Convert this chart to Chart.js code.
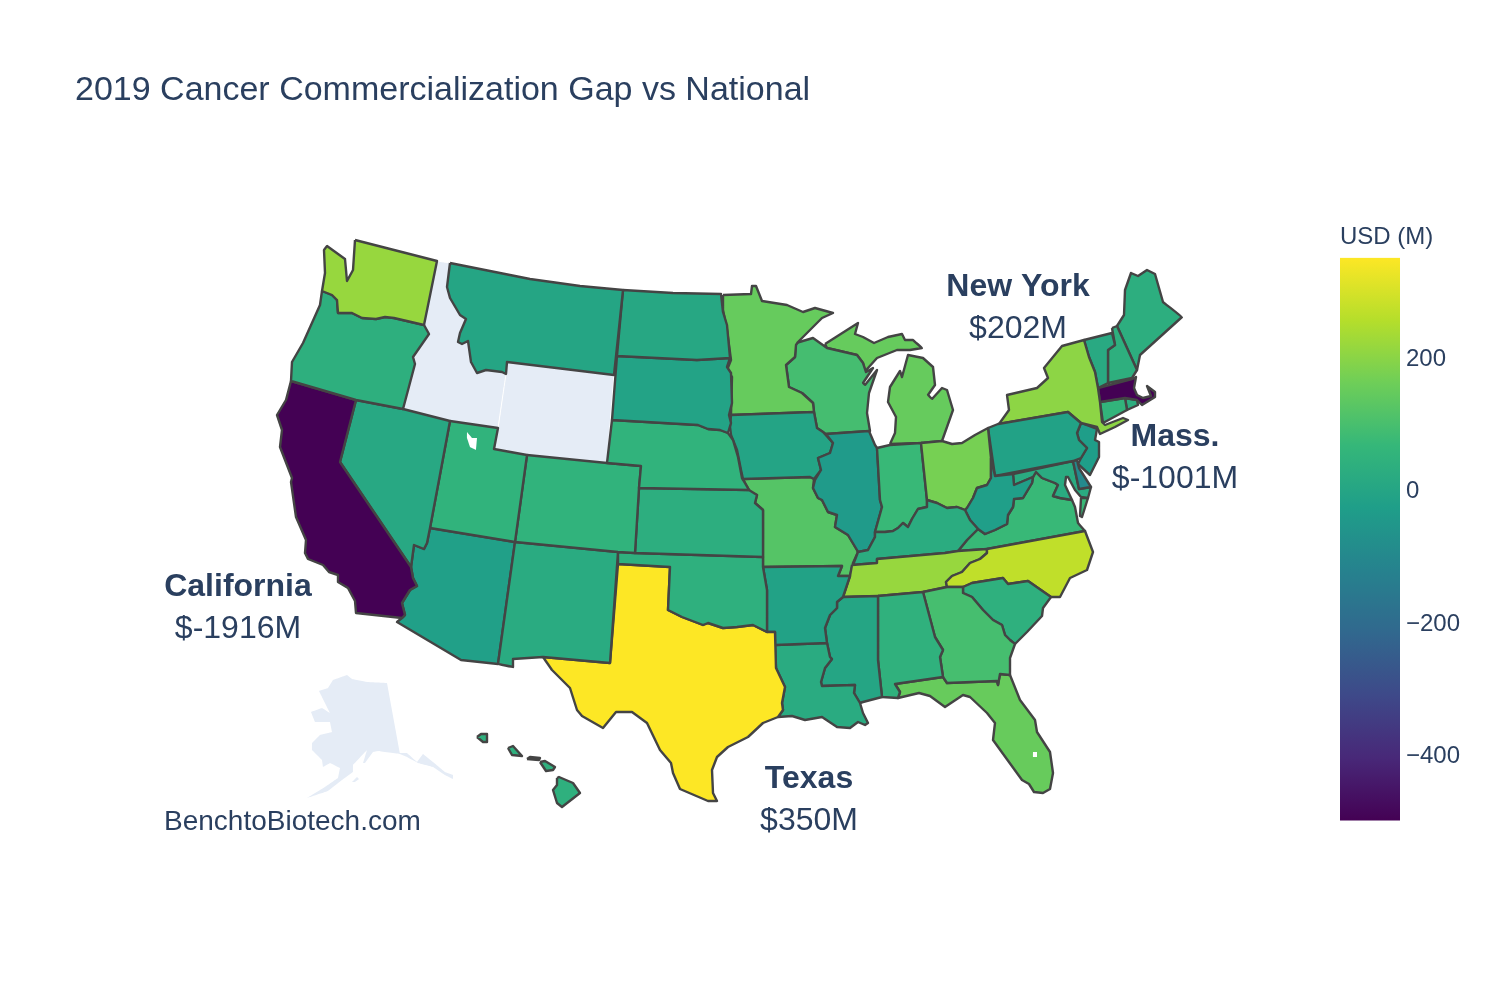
<!DOCTYPE html>
<html>
<head>
<meta charset="utf-8">
<title>2019 Cancer Commercialization Gap vs National</title>
<script src="https://cdn.jsdelivr.net/npm/chart.js@4"></script>
<style>
    body { margin: 0; background: #fff; }
    #mapChart { position: absolute; left: 0; top: 0; }
    #barChart { position: absolute; left: 1340px; top: 215px; }
</style>
</head>
<body>
<canvas id="mapChart" width="1500" height="1000"></canvas>
<canvas id="barChart" width="160" height="626"></canvas>
<script>
const titleText = '2019 Cancer Commercialization Gap vs National';
const colorbarTitle = 'USD (M)';
const colorbarTicks = [-400, -200, 0, 200];
const colorMin = -500;
const colorMax = 350;
const viridis = ['#440154', '#482878', '#3e4989', '#31688e', '#26828e', '#1f9e89', '#35b779', '#6ece58', '#b5de2b', '#fde725'];

const stateCodes = ['WA','OR','CA','NV','UT','MT','ND','SD','NE','CO','KS','NM','AZ','OK','TX','AR','LA','MS','AL','GA','FL','SC','NC','TN','KY','WV','OH','IN','IL','IA','MO','MN','WI','MI','PA','NY','NJ','DE','MD','VA','VT','NH','ME','MA','CT','RI','HI'];
const stateValues = [215,36,-1916,10,51,-1,6,-9,51,51,33,21,-20,40,350,-13,21,0,44,95,150,40,270,215,25,-25,172,72,-38,-5,120,148,93,148,-13,202,-28,-95,21,72,14,36,33,-1001,55,33,40];

const annotationNames = ['New York', 'Mass.', 'California', 'Texas'];
const annotationAmounts = ['$202M', '$-1001M', '$-1916M', '$350M'];
const annotationX = [1018, 1175, 238, 809];
const annotationY = [287, 437, 587, 779];
const creditText = 'BenchtoBiotech.com';

// state outlines traced in map units, one or more rings per state
const stateShapes = {
    WA: [[[355,240],[437,261],[424,325],[394,318],[385,317],[376,319],[362,318],[352,313],[338,313],[337,300],[332,295],[322,291],[325,273],[324,250],[327,246],[345,259],[347,281],[353,270]]],
    OR: [[[322,291],[332,295],[337,300],[338,313],[352,313],[362,318],[376,319],[385,317],[394,318],[424,325],[429,334],[413,357],[415,364],[403,409],[356,400],[291,381],[292,362],[303,343],[320,305]]],
    CA: [[[291,381],[356,400],[340,462],[411,567],[413,578],[417,586],[410,590],[402,603],[405,615],[402,618],[356,613],[355,601],[348,588],[338,582],[338,575],[329,572],[323,565],[308,559],[305,553],[306,540],[296,517],[291,482],[292,478],[280,447],[282,430],[277,415],[286,400]]],
    NV: [[[356,400],[403,409],[450,421],[430,528],[427,543],[424,549],[414,545],[411,567],[340,462]]],
    UT: [[[450,421],[498,428],[494,449],[527,455],[515,542],[430,528]]],
    MT: [[[450,263],[530,279],[580,286],[623,290],[614,375],[507,362],[506,374],[502,372],[486,370],[477,373],[471,362],[468,341],[462,344],[458,342],[460,333],[466,319],[460,315],[450,298],[447,287]]],
    ND: [[[623,290],[673,293],[721,294],[723,312],[727,325],[730,358],[697,360],[617,356]]],
    SD: [[[617,356],[697,360],[730,358],[727,367],[731,373],[732,403],[729,415],[731,423],[728,433],[720,430],[708,429],[698,425],[612,420]]],
    NE: [[[612,420],[698,425],[708,429],[720,430],[728,433],[733,440],[738,457],[742,478],[749,490],[639,488],[641,466],[607,463]]],
    CO: [[[527,455],[607,463],[641,466],[639,488],[635,553],[618,552],[515,542]]],
    KS: [[[639,488],[749,490],[757,495],[755,503],[763,510],[763,557],[635,553]]],
    NM: [[[515,542],[618,552],[610,663],[543,657],[513,659],[513,667],[498,664]]],
    AZ: [[[430,528],[515,542],[498,664],[461,660],[397,622],[402,618],[405,615],[402,603],[410,590],[417,586],[413,578],[411,567],[414,545],[424,549],[427,543]]],
    OK: [[[618,552],[635,553],[763,557],[763,567],[767,590],[767,632],[753,625],[737,627],[723,628],[720,627],[708,623],[703,625],[682,617],[668,610],[670,567],[618,564]]],
    TX: [[[618,564],[670,567],[668,610],[682,617],[703,625],[708,623],[720,627],[723,628],[737,627],[753,625],[767,632],[775,632],[776,668],[785,687],[782,703],[783,710],[778,717],[763,723],[748,737],[728,747],[717,757],[712,770],[713,793],[717,801],[708,801],[680,789],[673,773],[671,763],[660,750],[647,723],[632,712],[616,712],[603,728],[582,716],[577,710],[570,688],[552,670],[543,657],[610,663]]],
    AR: [[[763,567],[842,566],[838,576],[850,576],[843,597],[837,602],[837,608],[830,615],[825,628],[827,643],[775,645],[775,632],[767,632],[767,590]]],
    LA: [[[775,645],[827,643],[830,657],[832,659],[825,668],[821,682],[822,686],[855,685],[854,693],[860,703],[863,713],[868,723],[865,725],[858,722],[850,728],[837,727],[822,717],[805,720],[792,716],[778,717],[783,710],[782,703],[785,687],[776,668]]],
    MS: [[[843,597],[878,596],[878,660],[882,697],[863,702],[860,703],[854,693],[855,685],[822,686],[821,682],[825,668],[832,659],[830,657],[827,643],[825,628],[830,615],[837,608],[837,602]]],
    AL: [[[878,596],[923,592],[935,637],[943,650],[940,657],[943,677],[895,684],[900,692],[898,698],[882,697],[878,660]]],
    GA: [[[923,592],[947,587],[963,587],[963,593],[972,597],[983,610],[993,620],[1002,625],[1005,635],[1010,640],[1015,644],[1010,658],[1010,675],[1000,674],[998,685],[997,681],[947,683],[943,677],[940,657],[943,650],[935,637]]],
    FL: [[[895,684],[943,677],[947,683],[997,681],[998,685],[1000,674],[1010,675],[1020,700],[1035,720],[1037,732],[1050,752],[1053,773],[1050,789],[1043,793],[1034,792],[1029,784],[1022,780],[993,740],[995,723],[987,713],[970,697],[963,695],[945,707],[930,696],[919,693],[898,698],[900,692]]],
    SC: [[[963,587],[972,583],[1003,578],[1008,584],[1028,581],[1051,597],[1043,608],[1042,616],[1027,632],[1015,644],[1010,640],[1005,635],[1002,625],[993,620],[983,610],[972,597],[963,593]]],
    NC: [[[947,587],[946,582],[952,576],[962,572],[970,563],[980,559],[987,553],[987,549],[1085,531],[1093,552],[1087,570],[1070,578],[1060,597],[1051,597],[1028,581],[1008,584],[1003,578],[972,583],[963,587]]],
    TN: [[[852,565],[877,563],[877,559],[945,553],[958,551],[987,549],[987,553],[980,559],[970,563],[962,572],[952,576],[946,582],[947,587],[923,592],[878,596],[843,597],[850,576]]],
    KY: [[[853,565],[858,552],[868,550],[875,537],[875,532],[885,532],[893,531],[898,528],[903,523],[908,527],[912,519],[918,509],[927,507],[927,500],[937,503],[947,508],[957,507],[965,510],[970,520],[978,529],[967,540],[958,551],[945,553],[877,559],[877,563]]],
    WV: [[[991,458],[995,476],[1013,474],[1014,485],[1033,477],[1032,483],[1023,498],[1014,499],[1013,507],[1008,515],[1007,524],[995,530],[985,534],[978,529],[970,520],[965,510],[967,508],[973,498],[977,488],[987,485],[991,478]]],
    OH: [[[921,443],[942,441],[952,444],[962,443],[975,435],[988,428],[991,458],[991,478],[987,485],[977,488],[973,498],[967,508],[965,510],[957,507],[947,508],[937,503],[927,500]]],
    IN: [[[877,448],[890,445],[921,443],[927,500],[927,507],[918,509],[912,519],[908,527],[903,523],[898,528],[893,531],[885,532],[875,532],[882,507],[880,500]]],
    IL: [[[826,434],[869,431],[875,445],[877,448],[880,500],[882,507],[875,532],[875,537],[868,550],[858,552],[857,550],[848,535],[835,527],[837,515],[828,512],[822,500],[818,498],[813,488],[815,480],[821,470],[818,458],[830,453],[833,443]]],
    IA: [[[731,415],[814,412],[817,428],[823,432],[833,443],[830,453],[818,458],[821,470],[814,479],[810,477],[743,479],[741,470],[737,450],[731,435],[730,427]]],
    MO: [[[743,479],[810,477],[814,479],[813,488],[818,498],[822,500],[828,512],[837,515],[835,527],[848,535],[857,550],[858,552],[853,563],[850,576],[838,576],[842,566],[763,567],[763,510],[755,503],[757,495],[750,492]]],
    MN: [[[723,295],[751,294],[752,286],[756,286],[762,301],[787,305],[803,312],[815,308],[833,313],[822,318],[798,342],[796,345],[795,357],[786,365],[789,387],[802,393],[813,403],[814,412],[731,415],[732,377],[727,370],[731,360],[727,330],[723,310]]],
    WI: [[[796,343],[813,338],[827,348],[857,355],[863,363],[866,372],[873,368],[863,383],[865,385],[877,370],[869,393],[867,413],[870,431],[826,434],[823,432],[817,428],[814,412],[813,403],[802,393],[789,387],[786,365],[795,357]]],
    MI: [[[825,344],[858,323],[855,334],[863,337],[874,343],[888,337],[902,334],[905,340],[913,340],[922,348],[910,350],[897,350],[877,358],[868,368],[865,372],[863,363],[857,355],[827,348]],
         [[890,444],[895,433],[896,417],[888,402],[890,387],[900,371],[902,377],[908,355],[923,358],[933,367],[935,385],[928,395],[932,399],[942,388],[947,390],[953,410],[942,441],[921,443]]],
    PA: [[[988,428],[998,424],[1068,412],[1075,418],[1081,423],[1077,433],[1079,440],[1087,448],[1081,458],[1073,461],[995,476]]],
    NY: [[[999,424],[1009,410],[1007,395],[1037,388],[1048,378],[1044,368],[1062,346],[1084,340],[1089,357],[1095,372],[1098,388],[1100,402],[1102,422],[1105,425],[1123,418],[1128,420],[1115,427],[1100,434],[1097,427],[1081,423],[1068,412]]],
    NJ: [[[1081,423],[1097,429],[1095,440],[1099,442],[1099,457],[1090,475],[1078,464],[1081,458],[1087,448],[1079,440],[1077,433]]],
    DE: [[[1073,461],[1077,460],[1079,468],[1091,487],[1079,489]]],
    MD: [[[1013,474],[1073,461],[1079,489],[1091,487],[1088,498],[1081,497],[1075,490],[1068,477],[1066,477],[1065,485],[1072,500],[1060,498],[1053,496],[1058,485],[1055,483],[1042,478],[1036,472],[1033,477],[1014,485]]],
    VA: [[[958,551],[967,540],[978,529],[985,534],[995,530],[1007,524],[1008,515],[1013,507],[1014,499],[1023,498],[1032,483],[1033,477],[1036,472],[1042,478],[1055,483],[1058,485],[1053,496],[1060,498],[1072,500],[1075,507],[1078,523],[1085,531],[987,549]],
         [[1081,498],[1088,498],[1082,517],[1080,516]]],
    VT: [[[1084,340],[1112,333],[1115,345],[1108,350],[1108,383],[1098,388],[1095,372],[1089,357]]],
    NH: [[[1112,328],[1117,326],[1137,370],[1132,378],[1108,383],[1108,350],[1115,345]]],
    ME: [[[1117,326],[1124,315],[1125,290],[1131,273],[1138,276],[1147,270],[1155,274],[1163,302],[1182,317],[1140,355],[1137,370]]],
    MA: [[[1098,388],[1132,379],[1136,377],[1134,388],[1137,395],[1143,398],[1151,396],[1147,386],[1155,392],[1155,397],[1142,405],[1137,400],[1125,398],[1100,402]]],
    CT: [[[1100,402],[1125,398],[1127,410],[1103,423]]],
    RI: [[[1125,398],[1137,400],[1138,405],[1127,410]]],
    HI: [[[477,737],[481,734],[487,734],[487,742],[483,742]],
         [[508,748],[513,746],[522,756],[512,755]],
         [[527,759],[530,757],[540,758],[539,760]],
         [[540,762],[545,761],[555,767],[553,770],[546,771]],
         [[557,778],[559,777],[573,783],[580,793],[562,807],[557,803],[553,790],[557,785]]]
};

// states without a value, and the lakes cut out of the land
const idahoWyomingShapes = [
    [[437,261],[450,263],[447,287],[450,298],[460,315],[466,319],[460,333],[458,342],[462,344],[468,341],[471,362],[477,373],[486,370],[502,372],[506,374],[498,428],[450,421],[403,409],[415,364],[413,357],[429,334],[424,325]],
    [[507,362],[614,375],[607,463],[527,455],[494,449],[498,428]]
];
const alaskaShapes = [
    [[387,683],[400,753],[407,753],[417,762],[423,754],[433,762],[445,772],[453,775],[453,779],[445,775],[433,767],[418,763],[407,757],[400,754],[378,751],[373,752],[365,763],[363,763],[367,750],[353,765],[353,772],[342,780],[328,791],[307,798],[325,787],[338,778],[340,768],[330,763],[323,767],[322,760],[312,750],[312,743],[320,735],[332,732],[330,722],[315,722],[311,712],[322,708],[330,713],[319,691],[328,688],[333,680],[347,675],[352,679],[367,682]],
    [[352,782],[357,777],[359,779],[355,782]]
];
const lakeShapes = [
    [[467,432],[472,438],[477,438],[476,450],[470,447],[467,438]],
    [[1033,752],[1037,752],[1037,757],[1033,757]]
];

function valueToColor(value) {
    const t = Math.min(1, Math.max(0, (value - colorMin) / (colorMax - colorMin))) * (viridis.length - 1);
    const i = Math.min(Math.floor(t), viridis.length - 2);
    const a = parseInt(viridis[i].slice(1), 16);
    const b = parseInt(viridis[i + 1].slice(1), 16);
    const f = t - i;
    const mix = function(shift) {
        const ca = (a >> shift) & 255;
        const cb = (b >> shift) & 255;
        return Math.round(ca + (cb - ca) * f);
    };
    return `rgb(${mix(16)}, ${mix(8)}, ${mix(0)})`;
}

function ringDataset(label, ring, fillColor, lineColor, lineWidth) {
    return {
        label: label,
        data: ring.concat([ring[0]]).map(function(p) { return { x: p[0], y: p[1] }; }),
        showLine: true,
        fill: 'shape',
        // a tiny tension keeps Chart.js off its fast path, which merges points sharing an x pixel
        tension: 0.001,
        pointRadius: 0,
        backgroundColor: fillColor,
        borderColor: lineColor,
        borderWidth: lineWidth,
        borderJoinStyle: 'round'
    };
}

// earlier datasets are painted on top
const mapDatasets = [];
lakeShapes.forEach(function(ring) {
    mapDatasets.push(ringDataset('lake', ring, '#ffffff', '#ffffff', 0));
});
stateCodes.forEach(function(code, i) {
    stateShapes[code].forEach(function(ring) {
        mapDatasets.push(ringDataset(code, ring, valueToColor(stateValues[i]), '#444444', 2.4));
    });
});
idahoWyomingShapes.forEach(function(ring) {
    mapDatasets.push(ringDataset('no data', ring, '#e5ecf6', '#ffffff', 1));
});
alaskaShapes.forEach(function(ring) {
    mapDatasets.push(ringDataset('no data', ring, '#e5ecf6', '#e5ecf6', 0));
});

const textColor = '#2a3f5f';
const fontFamily = '"Liberation Sans", Arial, sans-serif';

const mapTextPlugin = {
    id: 'mapText',
    afterDraw: function(chart) {
        const ctx = chart.ctx;
        const xScale = chart.scales.x;
        const yScale = chart.scales.y;
        ctx.save();
        ctx.fillStyle = textColor;
        ctx.textBaseline = 'middle';
        ctx.textAlign = 'center';
        annotationNames.forEach(function(name, i) {
            const px = xScale.getPixelForValue(annotationX[i]);
            const py = yScale.getPixelForValue(annotationY[i]);
            ctx.font = `bold 32px ${fontFamily}`;
            ctx.fillText(name, px, py);
            ctx.font = `32px ${fontFamily}`;
            ctx.fillText(annotationAmounts[i], px, py + 42);
        });
        ctx.textAlign = 'left';
        ctx.font = `28px ${fontFamily}`;
        ctx.fillText(creditText, xScale.getPixelForValue(164), yScale.getPixelForValue(822));
        ctx.restore();
    }
};

new Chart(document.getElementById('mapChart').getContext('2d'), {
    type: 'scatter',
    data: { datasets: mapDatasets },
    plugins: [mapTextPlugin],
    options: {
        responsive: false,
        animation: false,
        events: [],
        layout: { padding: { left: 75 } },
        scales: {
            x: { type: 'linear', display: false, min: 75, max: 1500 },
            y: { type: 'linear', display: false, min: 130, max: 1000, reverse: true }
        },
        plugins: {
            legend: { display: false },
            tooltip: { enabled: false },
            title: {
                display: true,
                text: titleText,
                align: 'start',
                color: textColor,
                font: { family: fontFamily, size: 34, weight: 'normal', lineHeight: 1.2 },
                padding: { top: 70, bottom: 19.2 }
            }
        }
    }
});

new Chart(document.getElementById('barChart').getContext('2d'), {
    type: 'bar',
    data: {
        labels: [colorbarTitle],
        datasets: [{
            data: [[colorMin, colorMax]],
            barPercentage: 1,
            categoryPercentage: 1,
            backgroundColor: function(context) {
                const area = context.chart.chartArea;
                if (!area) {
                    return viridis[5];
                }
                const gradient = context.chart.ctx.createLinearGradient(0, area.bottom, 0, area.top);
                viridis.forEach(function(color, i) {
                    gradient.addColorStop(i / (viridis.length - 1), color);
                });
                return gradient;
            }
        }]
    },
    options: {
        responsive: false,
        animation: false,
        events: [],
        scales: {
            x: { display: false },
            y: {
                position: 'right',
                min: colorMin,
                max: colorMax,
                grid: { display: false, tickLength: 0 },
                border: { display: false },
                afterFit: function(scale) { scale.width = 100; },
                afterBuildTicks: function(scale) {
                    scale.ticks = colorbarTicks.map(function(value) { return { value: value }; });
                },
                ticks: {
                    padding: 6,
                    labelOffset: 2,
                    color: textColor,
                    font: { family: fontFamily, size: 24 },
                    callback: function(value) { return String(value).replace('-', '\u2212'); }
                }
            }
        },
        plugins: {
            legend: { display: false },
            tooltip: { enabled: false },
            title: {
                display: true,
                text: colorbarTitle,
                align: 'start',
                color: textColor,
                font: { family: fontFamily, size: 24, weight: 'normal', lineHeight: 1.2 },
                padding: { top: 8, bottom: 6 }
            }
        }
    }
});
</script>
</body>
</html>
